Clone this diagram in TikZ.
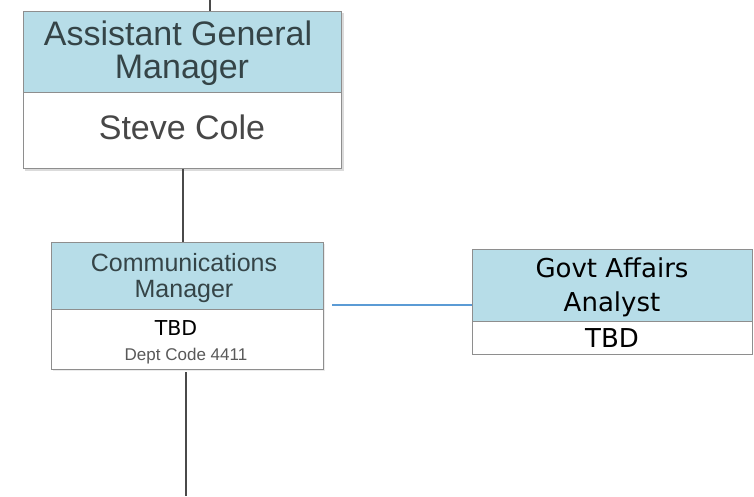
\documentclass[tikz,border=0pt]{standalone}
\usepackage{fontspec}
\setmainfont{Liberation Sans}
\newfontfamily\tahf{DejaVu Sans}
\definecolor{hdr}{HTML}{B7DDE8}
\definecolor{bord}{HTML}{8E8E8E}
\definecolor{txt}{HTML}{354447}
\definecolor{conn}{HTML}{4A4A4A}
\definecolor{blu}{HTML}{5B9BD5}
\tikzset{
  hbox/.style={draw=bord, line width=1.3pt, fill=hdr, anchor=north west, inner sep=0pt},
  bbox/.style={draw=bord, line width=1.3pt, fill=white, anchor=north west, inner sep=0pt},
  lbl/.style={anchor=base, inner sep=0pt, align=center},
  link/.style={draw=conn, line width=1.2pt},
  bluelink/.style={draw=blu, line width=1.2pt}
}
\begin{document}
\begin{tikzpicture}[x=1pt,y=-1pt]
\useasboundingbox (0,0) rectangle (754,496);
% shadows
\fill[black!14] (25,13) rectangle (344,171);
\fill[black!8] (53,244) rectangle (325,371);
% AGM
\node[hbox, minimum width=318pt, minimum height=81pt] (agmh) at (23,11) {};
\node[bbox, minimum width=318pt, minimum height=76pt] (agmb) at (23,92) {};
\node[lbl, font=\fontsize{34}{34}\selectfont, text=txt] (agmt1) at (178,45) {Assistant General};
\node[lbl, font=\fontsize{34}{34}\selectfont, text=txt] (agmt2) at (182,78) {Manager};
\node[lbl, font=\fontsize{34}{34}\selectfont, text=black!72] (agmn) at (182,139) {Steve Cole};
% Comm
\node[hbox, minimum width=272pt, minimum height=67pt] (comh) at (51,242) {};
\node[bbox, minimum width=272pt, minimum height=60pt] (comb) at (51,309) {};
\node[lbl, font=\fontsize{25}{25}\selectfont, text=txt] (comt1) at (184,271) {Communications};
\node[lbl, font=\fontsize{25}{25}\selectfont, text=txt] (comt2) at (184,297) {Manager};
\node[lbl, font=\tahf\fontsize{20.5}{20.5}\selectfont] (comn) at (176,335) {TBD};
\node[lbl, font=\fontsize{17}{17}\selectfont, text=black!65] (comd) at (186,360) {Dept Code 4411};
% Govt
\node[hbox, minimum width=280pt, minimum height=72pt] (govh) at (472,249) {};
\node[bbox, minimum width=280pt, minimum height=33pt] (govb) at (472,321) {};
\node[lbl, font=\tahf\fontsize{26}{26}\selectfont] (govt1) at (612,277) {Govt Affairs};
\node[lbl, font=\tahf\fontsize{26}{26}\selectfont] (govt2) at (612,311) {Analyst};
\node[lbl, font=\tahf\fontsize{26}{26}\selectfont] (govn) at (612,347) {TBD};
% connectors
\coordinate (topend) at (210,0);
\coordinate (botstart) at (186,372);
\coordinate (botend) at (186,496);
\coordinate (blustart) at (332,305);
\draw[link] (topend) -- (topend |- agmh.north);
\draw[link] (agmb.south -| 183,0) -- (comh.north -| 183,0);
\draw[link] (botstart) -- (botend);
\draw[bluelink] (blustart) -- (blustart -| govh.west);
\end{tikzpicture}
\end{document}
